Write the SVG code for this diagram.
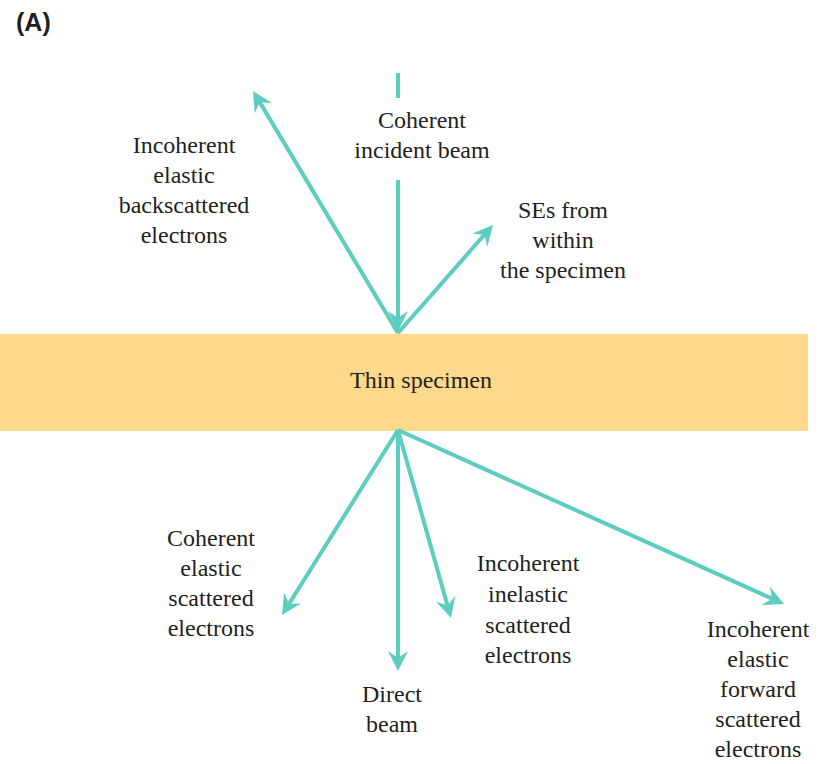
<svg xmlns="http://www.w3.org/2000/svg" width="834" height="764" viewBox="0 0 834 764">
<rect width="834" height="764" fill="#fff"/>
<text x="16" y="31" style="font-family:'Liberation Sans',sans-serif;font-weight:bold;font-size:25px" fill="#231f20">(A)</text>
<g id="specimen">
<rect x="0" y="334" width="808" height="97" fill="#fdd98b"/>
<text x="421" y="388" style="font-family:'Liberation Serif',serif;font-size:24px" fill="#231f20" text-anchor="middle">Thin specimen</text>
</g>
<g id="connectors" stroke="#5ccdbf" stroke-width="4" fill="none">
<line x1="398" y1="73" x2="398" y2="98"/>
<line x1="398" y1="180" x2="398" y2="318"/>
<line x1="398" y1="333" x2="259.68" y2="102.15"/>
<line x1="398" y1="333" x2="484.41" y2="234.76"/>
<line x1="398" y1="430" x2="288.91" y2="603.99"/>
<line x1="398" y1="430" x2="398" y2="658"/>
<line x1="398" y1="430" x2="447.47" y2="605.49"/>
<line x1="398" y1="430" x2="772.15" y2="598.66"/>
<g stroke="none" fill="#5ccdbf">
<path d="M398,331 L388,311 L398,318 L408,311 Z"/>
<path d="M253,91 L271.86,103.02 L259.68,102.15 L254.70,113.30 Z"/>
<path d="M493,225 L487.30,246.63 L484.41,234.76 L472.28,233.41 Z"/>
<path d="M282,615 L301.09,603.37 L288.91,603.99 L284.15,592.75 Z"/>
<path d="M398,671 L388,651 L398,658 L408,651 Z"/>
<path d="M451,618 L455.20,596.04 L447.47,605.49 L435.94,601.46 Z"/>
<path d="M784,604 L761.66,604.90 L772.15,598.66 L769.88,586.66 Z"/>
</g>
</g>
<g style="font-family:'Liberation Serif',serif;font-size:24px" fill="#231f20" text-anchor="middle">
<g id="incident">
<text x="422" y="128">Coherent</text>
<text x="422" y="158">incident beam</text>
</g>
<g id="backscattered">
<text x="184" y="153">Incoherent</text>
<text x="184" y="183">elastic</text>
<text x="184" y="213">backscattered</text>
<text x="184" y="243">electrons</text>
</g>
<g id="se">
<text x="563" y="218">SEs from</text>
<text x="563" y="248">within</text>
<text x="563" y="278">the specimen</text>
</g>
<g id="coherent-scattered">
<text x="211" y="546">Coherent</text>
<text x="211" y="576">elastic</text>
<text x="211" y="606">scattered</text>
<text x="211" y="636">electrons</text>
</g>
<g id="direct">
<text x="392" y="702">Direct</text>
<text x="392" y="732">beam</text>
</g>
<g id="inelastic">
<text x="528" y="571">Incoherent</text>
<text x="528" y="602">inelastic</text>
<text x="528" y="633">scattered</text>
<text x="528" y="663">electrons</text>
</g>
<g id="forward">
<text x="758" y="637">Incoherent</text>
<text x="758" y="667">elastic</text>
<text x="758" y="697">forward</text>
<text x="758" y="727">scattered</text>
<text x="758" y="757">electrons</text>
</g>
</g>
</svg>
